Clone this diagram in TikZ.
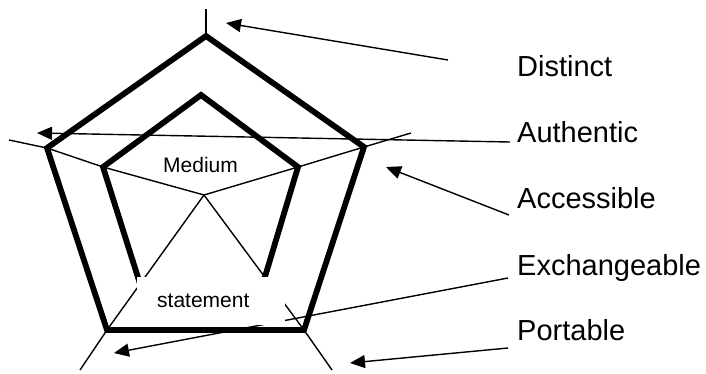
\documentclass[tikz,border=0pt]{standalone}
\usepackage{fontspec}
\setmainfont{Liberation Sans}
\usetikzlibrary{arrows.meta}
\begin{document}
\begin{tikzpicture}[x=1pt,y=-1pt,
  thinline/.style={line width=1.4pt},
  thickpoly/.style={line width=5.8pt, line join=miter},
  pointer/.style={line width=1.4pt, -{Triangle[length=15pt,width=13pt]}},
  lbltext/.style={anchor=base west, inner sep=0pt, font=\fontsize{29}{34}\selectfont},
  smalltext/.style={anchor=base west, inner sep=0pt, font=\fontsize{21}{25}\selectfont}]
\useasboundingbox (0,0) rectangle (706,373);
% centre and vertices
\coordinate (C) at (204,195);
\coordinate (O1) at (206,36);
\coordinate (O2) at (364,147);
\coordinate (O3) at (304,330);
\coordinate (O4) at (107,330);
\coordinate (O5) at (47,148);
\coordinate (I1) at (201,95);
\coordinate (I2) at (298,167);
\coordinate (I3) at (261,290);
\coordinate (I4) at (142,290);
\coordinate (I5) at (103,167);
\coordinate (S1) at (206,9);
\coordinate (S2) at (411,133);
\coordinate (S3) at (332,370);
\coordinate (S4) at (80,370);
\coordinate (S5) at (9,140);
% spokes
\draw[thinline] (O1) -- (S1);
\draw[thinline] (C) -- (I2) -- (O2) -- (S2);
\draw[thinline] (C) -- (O3) -- (S3);
\draw[thinline] (C) -- (O4) -- (S4);
\draw[thinline] (C) -- (I5) -- (O5) -- (S5);
% inner pentagon
\draw[thickpoly] (I1) -- (I2) -- (I3) -- (I4) -- (I5) -- cycle;
% arrows
\coordinate (dS) at (448,60);  \coordinate (dT) at (226,23);
\coordinate (aS) at (510,142); \coordinate (aT) at (37,133);
\coordinate (cS) at (509,215); \coordinate (cT) at (386,167);
\coordinate (eS) at (508,278); \coordinate (eT) at (114,353);
\coordinate (pS) at (508,348); \coordinate (pT) at (350,363);
\draw[pointer] (dS) -- (dT);
\draw[pointer] (aS) -- (aT);
\draw[pointer] (cS) -- (cT);
\draw[pointer] (eS) -- (eT);
\draw[pointer] (pS) -- (pT);
% white box behind "statement"
\fill[white] (137,277) rectangle (285,325);
% outer pentagon
\draw[thickpoly] (O1) -- (O2) -- (O3) -- (O4) -- (O5) -- cycle;
% texts
\node[smalltext] (medium) at (163,172) {Medium};
\node[smalltext] (statement) at (157,307) {statement};
\node[lbltext] (distinct) at (517,76) {Distinct};
\node[lbltext] (authentic) at (517,142) {Authentic};
\node[lbltext] (accessible) at (517,208) {Accessible};
\node[lbltext] (exchangeable) at (517,275) {Exchangeable};
\node[lbltext] (portable) at (517,340) {Portable};
\end{tikzpicture}
\end{document}
